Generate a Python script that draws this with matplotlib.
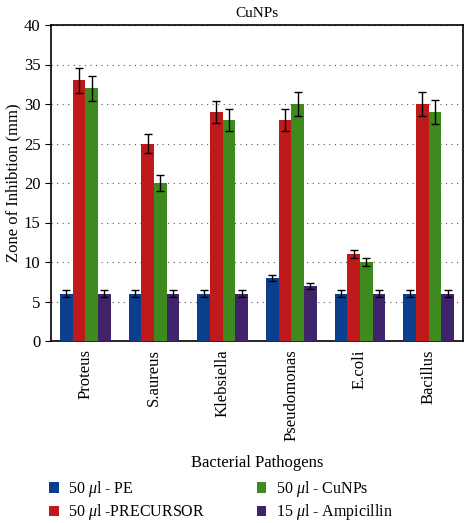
import matplotlib
matplotlib.use('Agg')
import matplotlib.pyplot as plt
import numpy as np

pathogens = ['Proteus', 'S.aureus', 'Klebsiella', 'Pseudomonas', 'E.coli', 'Bacillus']
series_names = [r'50 $\mu$l - PE', r'50 $\mu$l -PRECURSOR',
                r'50 $\mu$l - CuNPs', r'15 $\mu$l - Ampicillin']
pe = [6, 6, 6, 8, 6, 6]
precursor = [33, 25, 29, 28, 11, 30]
cunps = [32, 20, 28, 30, 10, 29]
ampicillin = [6, 6, 6, 7, 6, 6]
pe_err = [0.4, 0.4, 0.4, 0.4, 0.4, 0.4]
precursor_err = [1.6, 1.2, 1.4, 1.4, 0.5, 1.5]
cunps_err = [1.6, 1.0, 1.4, 1.5, 0.5, 1.5]
ampicillin_err = [0.4, 0.4, 0.4, 0.4, 0.4, 0.4]

colors = ['#0b3f8e', '#c0191c', '#3f8a1f', '#40246a']

plt.rcParams['font.family'] = ['Liberation Serif', 'DejaVu Serif']
plt.rcParams['mathtext.fontset'] = 'custom'
plt.rcParams['mathtext.it'] = 'Liberation Serif:italic'
plt.rcParams['mathtext.rm'] = 'Liberation Serif'

fig = plt.figure(figsize=(4.66, 5.23), dpi=100)
ax = fig.add_axes([51 / 466, 1 - 341 / 523, 412 / 466, 316 / 523])

x = np.arange(len(pathogens))
w = 0.184
data = [pe, precursor, cunps, ampicillin]
errs = [pe_err, precursor_err, cunps_err, ampicillin_err]
for i, (vals, err) in enumerate(zip(data, errs)):
    ax.bar(x + (i - 1.5) * w, vals, w, color=colors[i], label=series_names[i],
           yerr=err, capsize=3, error_kw=dict(elinewidth=1, capthick=1, ecolor='black'),
           zorder=3)

ax.set_xlim(-0.5, 5.5)
ax.set_ylim(0, 40)
ax.set_yticks(range(0, 41, 5))
ax.set_xticks(x)
ax.set_xticklabels(pathogens, rotation=90, fontsize=12)
ax.tick_params(axis='y', labelsize=12, length=4)
ax.tick_params(axis='x', length=0, pad=6)
ax.yaxis.grid(True, linestyle=(0, (1, 4)), color='#555555', linewidth=0.8, zorder=0)
for s in ax.spines.values():
    s.set_linewidth(1.2)

ax.set_title('CuNPs', fontsize=11, pad=6)
ax.set_ylabel('Zone of Inhibtion (mm)', fontsize=12, labelpad=2)
ax.set_xlabel('Bacterial Pathogens', fontsize=12, labelpad=10)

handles, labels = ax.get_legend_handles_labels()
fig.legend(handles, labels,
           loc='lower left', bbox_to_anchor=(38 / 466, -0.02), ncol=2, frameon=False,
           fontsize=11.5, handlelength=0.6, handleheight=0.6, handletextpad=0.6,
           columnspacing=3.2, labelspacing=0.2, borderaxespad=0.3)

fig.savefig('out.png', dpi=100)
